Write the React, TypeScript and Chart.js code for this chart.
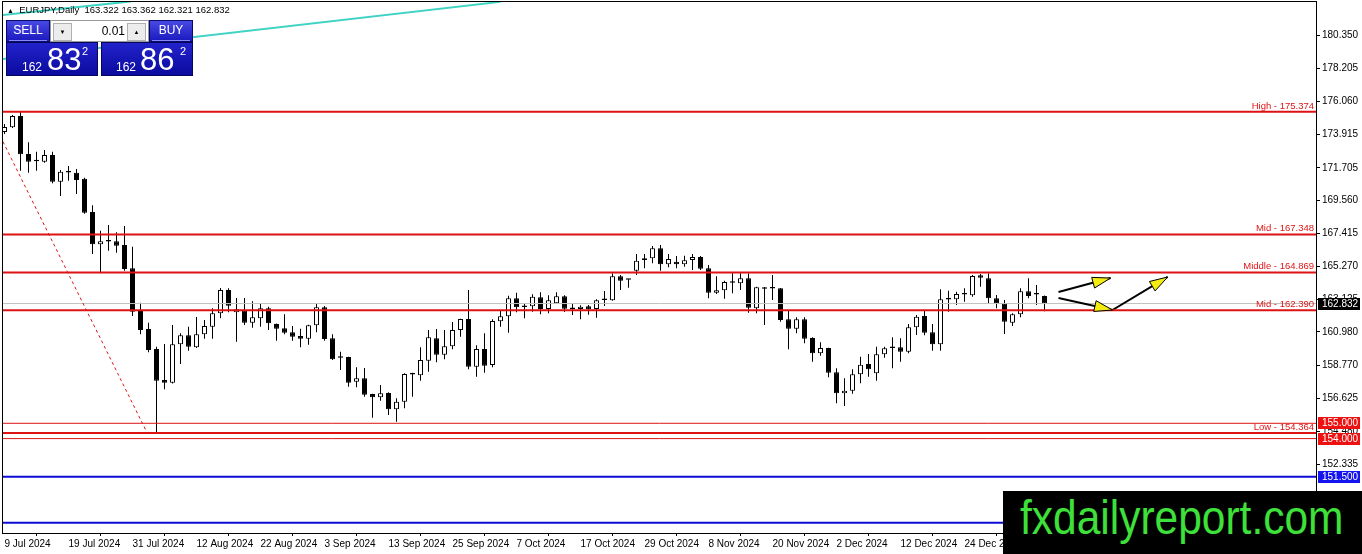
import { useEffect, useRef } from "react";
import { Chart, registerables } from "chart.js";

Chart.register(...registerables);

// --- data ---
const symbol = "EURJPY,Daily";

const dateLabels = [
  "9 Jul 2024", "19 Jul 2024", "31 Jul 2024", "12 Aug 2024", "22 Aug 2024", "3 Sep 2024",
  "13 Sep 2024", "25 Sep 2024", "7 Oct 2024", "17 Oct 2024", "29 Oct 2024", "8 Nov 2024",
  "20 Nov 2024", "2 Dec 2024", "12 Dec 2024", "24 Dec 2024",
];
const dateTickBars = [0, 8, 16, 24, 32, 40, 48, 56, 64, 72, 80, 88, 96, 104, 112, 120];

const opens = [
  174.052, 174.359, 175.098, 172.613, 172.17, 172.11, 172.548, 170.802, 171.43, 171.39,
  170.998, 168.82, 166.707, 166.89, 166.903, 166.661, 165.138, 162.41, 161.168, 159.86,
  157.832, 157.656, 160.167, 160.756, 159.971, 160.821, 161.318, 162.195, 163.718, 162.26,
  162.365, 161.58, 161.868, 162.522, 161.495, 161.214, 160.952, 160.71, 160.533, 161.41,
  162.587, 160.56, 159.3, 159.337, 157.721, 157.944, 156.917, 156.701, 156.982, 155.916,
  156.413, 158.2, 158.14, 159.094, 160.56, 159.487, 160.036, 161.102, 161.822, 158.702,
  159.86, 158.813, 161.671, 161.998, 163.176, 162.64, 162.652, 163.241, 162.476, 162.849,
  163.306, 162.51, 162.476, 162.652, 162.476, 163.07, 163.045, 164.614, 164.4, 164.981,
  165.68, 165.792, 166.446, 165.399, 165.569, 165.399, 165.68, 165.877, 165.138, 163.542,
  163.699, 164.21, 164.157, 164.484, 162.522, 163.895, 163.84, 163.83, 161.802, 161.187,
  161.802, 160.579, 159.578, 159.925, 158.336, 156.962, 157.132, 158.205, 158.879, 158.27,
  159.513, 159.96, 159.971, 159.683, 161.279, 162.018, 160.952, 160.167, 163.1, 163.11,
  163.45, 163.372, 164.68, 164.484, 163.176, 162.849, 161.58, 162.129, 163.633, 163.45,
  163.322,
];
const highs = [
  174.575, 175.164, 175.374, 173.378, 172.764, 172.875, 172.764, 171.567, 171.828, 171.632,
  171.063, 169.258, 167.597, 167.97, 167.492, 167.904, 166.55, 162.888, 161.58, 160.01,
  160.187, 161.429, 160.887, 161.318, 161.953, 161.756, 162.522, 163.849, 163.83, 163.195,
  163.195, 162.979, 162.803, 162.626, 161.52, 162.129, 161.364, 161.187, 161.45, 162.849,
  162.672, 160.821, 159.683, 159.36, 158.663, 158.617, 156.93, 157.505, 157.028, 156.635,
  158.27, 158.31, 159.971, 161.102, 161.168, 161.102, 161.626, 161.841, 163.718, 160.102,
  160.887, 161.802, 162.365, 163.346, 163.542, 162.803, 163.437, 163.568, 163.372, 163.568,
  163.372, 162.849, 162.718, 162.737, 163.11, 163.653, 164.811, 164.699, 164.42, 166.073,
  166.073, 166.596, 166.661, 166.073, 165.942, 165.962, 166.073, 165.942, 165.354, 164.614,
  164.327, 164.811, 164.811, 164.811, 163.934, 163.91, 164.699, 163.85, 162.41, 161.933,
  161.933, 160.625, 160.298, 159.94, 158.597, 157.944, 158.532, 159.356, 159.533, 160.01,
  160.01, 160.625, 160.56, 161.495, 162.083, 162.365, 161.495, 163.764, 163.673, 163.607,
  163.83, 164.699, 164.765, 164.811, 163.391, 163.064, 162.195, 163.83, 164.484, 164.045,
  163.362,
];
const lows = [
  173.921, 174.314, 171.521, 171.39, 171.521, 172.044, 170.697, 169.866, 170.867, 169.997,
  168.7, 166.073, 164.811, 166.289, 166.158, 164.981, 162.018, 160.821, 159.644, 154.364,
  157.224, 157.6, 158.879, 159.749, 159.93, 160.533, 160.533, 161.868, 162.26, 160.337,
  161.429, 161.253, 161.318, 161.102, 160.403, 160.821, 160.403, 159.971, 160.141, 160.952,
  160.403, 159.14, 158.486, 157.394, 157.355, 156.74, 155.367, 156.478, 155.543, 155.105,
  155.981, 156.74, 157.787, 158.375, 158.99, 159.186, 159.84, 160.664, 158.532, 158.048,
  158.31, 158.663, 161.318, 160.926, 162.26, 161.868, 162.299, 162.129, 162.195, 162.82,
  162.28, 162.083, 161.802, 162.103, 161.907, 162.672, 163.02, 163.718, 163.869, 164.699,
  165.138, 165.465, 164.981, 165.203, 165.138, 165.242, 165.027, 165.027, 163.176, 163.457,
  163.149, 163.503, 163.718, 162.234, 162.195, 161.429, 163.064, 161.645, 159.84, 160.887,
  160.232, 159.029, 159.421, 158.009, 156.308, 156.132, 156.94, 157.616, 158.048, 157.787,
  159.291, 158.597, 159.029, 159.578, 160.775, 160.756, 159.749, 159.749, 162.299, 162.737,
  162.953, 163.28, 163.934, 162.803, 162.522, 160.841, 161.364, 161.933, 163.176, 162.737,
  162.321,
];
const closes = [
  174.379, 175.098, 172.594, 172.11, 172.14, 172.548, 170.802, 171.456, 171.4, 170.913,
  168.774, 166.707, 166.903, 166.915, 166.616, 165.092, 162.299, 161.102, 159.794, 157.787,
  157.656, 160.167, 160.756, 160.01, 160.821, 161.364, 162.195, 163.718, 162.692, 162.456,
  161.58, 161.933, 162.522, 161.541, 161.187, 160.926, 160.664, 160.533, 161.41, 162.587,
  160.514, 159.186, 159.28, 157.656, 157.944, 156.871, 156.701, 156.962, 155.916, 156.413,
  158.225, 158.24, 159.14, 160.625, 159.487, 160.036, 161.102, 161.822, 158.702, 159.86,
  158.768, 161.691, 161.998, 163.176, 162.587, 162.61, 163.28, 162.476, 163.045, 163.306,
  162.495, 162.48, 162.626, 162.456, 163.045, 163.1, 164.614, 164.327, 164.385, 165.635,
  165.792, 166.446, 165.399, 165.746, 165.399, 165.661, 165.877, 165.111, 163.542, 163.699,
  164.242, 164.185, 164.484, 162.561, 163.895, 163.803, 163.82, 161.756, 161.187, 161.802,
  160.533, 159.578, 159.925, 158.31, 156.962, 157.132, 158.205, 158.833, 158.532, 159.513,
  159.906, 159.93, 159.683, 161.279, 161.972, 160.926, 160.167, 163.11, 163.12, 163.457,
  163.425, 164.634, 164.523, 163.176, 162.849, 161.645, 162.129, 163.633, 163.327, 163.425,
  162.832,
];

const priceTicks = [
  180.35, 178.205, 176.06, 173.915, 171.705, 169.56, 167.415, 165.27, 163.125,
  160.98, 158.77, 156.625, 154.48, 152.335, 150.19,
];

// horizontal levels
const levelValues = [175.374, 167.348, 164.869, 162.39, 155.0, 154.364, 154.0, 151.5, 148.5];
const levelNames = ["High", "Mid", "Middle", "Mid", "", "Low", "", "", ""];

const bidPrice = 162.832;
const askPrice = 162.862;
const lotSize = "0.01";
const tagValues = [162.832, 155.0, 154.0, 151.5];

// drawn objects, as (bar index, price)
const dashX = [-0.19, 17.84];
const dashY = [173.42, 154.364];
const cyanAX = [-0.19, 15.75];
const cyanAY = [181.704, 182.593];
const cyanBX = [-0.19, 62];
const cyanBY = [178.82, 182.564];
const arrow1X = [131.75, 138.25];
const arrow1Y = [163.59, 164.5];
const arrow2X = [131.75, 138.5, 145.4];
const arrow2Y = [163.2, 162.41, 164.57];

const X_MIN = -0.1875;
const X_MAX = 163.9375;
const Y_MIN = 147.826;
const Y_MAX = 182.554;

const FONT = "'Liberation Sans', Arial, sans-serif";
const RED = "#dd1313";
const BLUE = "#0c0cd4";

const pts = (xs: number[], ys: number[]) => xs.map((x, i) => ({ x, y: ys[i] }));

export default function App() {
  const canvasRef = useRef<HTMLCanvasElement>(null);

  useEffect(() => {
    const canvas = canvasRef.current;
    if (!canvas) return;

    const bars = closes.map((_, i) => i);
    const datasets: any[] = [];

    // level lines
    levelValues.forEach((v, i) => {
      const blue = i >= 7;
      const thin = !blue && levelNames[i] === "";
      datasets.push({
        type: "line",
        data: pts([X_MIN, X_MAX], [v, v]),
        borderColor: blue ? BLUE : RED,
        borderWidth: thin ? 1 : 2,
        pointRadius: 0,
        order: 0,
      });
    });
    // bid line
    datasets.push({
      type: "line",
      data: pts([X_MIN, X_MAX], [bidPrice, bidPrice]),
      borderColor: "#c0c0c0",
      borderWidth: 1,
      pointRadius: 0,
      order: 1,
    });
    datasets.push({
      type: "line",
      data: pts(dashX, dashY),
      borderColor: RED,
      borderWidth: 1,
      borderDash: [3, 3],
      pointRadius: 0,
      order: 0,
    });
    datasets.push({
      type: "line",
      data: pts(cyanAX, cyanAY),
      borderColor: "#3fd3c4",
      borderWidth: 2,
      pointRadius: 0,
      order: 0,
    });
    datasets.push({
      type: "line",
      data: pts(cyanBX, cyanBY),
      borderColor: "#3fd3c4",
      borderWidth: 2,
      pointRadius: 0,
      order: 0,
    });
    const arrow1Index = datasets.length;
    datasets.push({
      type: "line",
      data: pts(arrow1X, arrow1Y),
      borderColor: "#000",
      borderWidth: 2,
      pointRadius: 0,
      order: 0,
    });
    const arrow2Index = datasets.length;
    datasets.push({
      type: "line",
      data: pts(arrow2X, arrow2Y),
      borderColor: "#000",
      borderWidth: 2,
      pointRadius: 0,
      order: 0,
    });
    // candles: bodies then wicks
    datasets.push({
      type: "bar",
      data: bars.map((i) => ({ x: i, y: [opens[i], closes[i]] })),
      backgroundColor: bars.map((i) => (closes[i] >= opens[i] ? "#ffffff" : "#000000")),
      borderColor: "#000",
      borderWidth: 1,
      borderSkipped: false,
      barThickness: 5,
      minBarLength: 1.5,
      grouped: false,
      inflateAmount: 0,
      order: 2,
    });
    datasets.push({
      type: "bar",
      data: bars.map((i) => ({ x: i, y: [lows[i], highs[i]] })),
      backgroundColor: "#000",
      borderWidth: 0,
      barThickness: 1,
      grouped: false,
      inflateAmount: 0,
      order: 3,
    });

    const headSpec = [
      [arrow1Index, 1],
      [arrow2Index, 1],
      [arrow2Index, 2],
    ];

    const overlay = {
      id: "overlay",
      afterDatasetsDraw(c: any) {
        const { ctx, chartArea } = c;
        const y = c.scales.y;
        ctx.save();
        // level captions
        ctx.font = `9.5px ${FONT}`;
        ctx.fillStyle = "#e01414";
        ctx.textAlign = "right";
        ctx.textBaseline = "bottom";
        levelValues.forEach((v, i) => {
          if (!levelNames[i]) return;
          ctx.fillText(`${levelNames[i]} - ${v.toFixed(3)}`, chartArea.right - 2, y.getPixelForValue(v) - 1);
        });
        // arrow heads
        headSpec.forEach(([ds, k]) => {
          const p = c.getDatasetMeta(ds).data;
          const tip = p[k];
          const from = p[k - 1];
          const a = Math.atan2(tip.y - from.y, tip.x - from.x);
          const len = 18;
          const w = 5.5;
          const bx = tip.x - len * Math.cos(a);
          const by = tip.y - len * Math.sin(a);
          ctx.beginPath();
          ctx.moveTo(tip.x, tip.y);
          ctx.lineTo(bx + w * Math.sin(a), by - w * Math.cos(a));
          ctx.lineTo(bx - w * Math.sin(a), by + w * Math.cos(a));
          ctx.closePath();
          ctx.fillStyle = "#f4ec10";
          ctx.fill();
          ctx.strokeStyle = "#000";
          ctx.lineWidth = 1;
          ctx.stroke();
        });
        ctx.restore();
      },
      afterDraw(c: any) {
        const { ctx, chartArea } = c;
        const y = c.scales.y;
        ctx.save();
        ctx.strokeStyle = "#000";
        ctx.lineWidth = 1;
        ctx.strokeRect(chartArea.left - 0.5, chartArea.top - 0.5, chartArea.right - chartArea.left + 1, chartArea.bottom - chartArea.top + 1);
        const tagColors = ["#000000", "#ee1111", "#ee1111", "#1414ee"];
        ctx.font = `10px ${FONT}`;
        ctx.textBaseline = "middle";
        ctx.textAlign = "left";
        tagValues.forEach((v, i) => {
          const py = Math.round(y.getPixelForValue(v));
          ctx.fillStyle = tagColors[i];
          ctx.fillRect(chartArea.right + 2, py - 6, 42, 12);
          ctx.fillStyle = "#fff";
          ctx.fillText(v.toFixed(3), chartArea.right + 6, py + 0.5);
        });
        ctx.restore();
      },
    };

    const chart = new Chart(canvas, {
      type: "bar",
      data: { datasets },
      options: {
        animation: false,
        responsive: false,
        events: [],
        layout: { padding: { left: 3, top: 2, right: 0, bottom: 0 } },
        plugins: { legend: { display: false }, tooltip: { enabled: false } },
        scales: {
          x: {
            type: "linear",
            min: X_MIN,
            max: X_MAX,
            offset: false,
            border: { display: true, color: "#000" },
            grid: { drawOnChartArea: false, drawTicks: true, tickLength: 3, color: "#000" },
            afterBuildTicks: (s: any) => {
              s.ticks = dateTickBars.map((v) => ({ value: v }));
            },
            afterFit: (s: any) => {
              s.height = 21;
              s.paddingLeft = 0;
              s.paddingRight = 0;
            },
            ticks: {
              autoSkip: false,
              maxRotation: 0,
              minRotation: 0,
              align: "start",
              padding: 2,
              color: "#000",
              font: { family: FONT, size: 10 },
              callback: (_v: any, i: number) => dateLabels[i],
            },
          },
          y: {
            type: "linear",
            position: "right",
            min: Y_MIN,
            max: Y_MAX,
            border: { display: true, color: "#000" },
            grid: { drawOnChartArea: false, drawTicks: true, tickLength: 4, color: "#000" },
            afterBuildTicks: (s: any) => {
              s.ticks = priceTicks.map((v) => ({ value: v }));
            },
            afterFit: (s: any) => {
              s.width = 46;
              s.paddingTop = 0;
              s.paddingBottom = 0;
            },
            ticks: {
              padding: 2,
              color: "#000",
              font: { family: FONT, size: 10 },
              callback: (v: any) => Number(v).toFixed(3),
            },
          },
        },
      } as any,
      plugins: [overlay],
    });

    return () => chart.destroy();
  }, []);

  const headerStyle: any = {
    position: "absolute",
    top: 20,
    height: 22,
    boxSizing: "border-box",
    background: "linear-gradient(#4848e2, #1a1abf)",
    border: "1px solid #08086a",
    color: "#fff",
    fontSize: 12,
    lineHeight: "19px",
    textAlign: "center",
  };
  const lastBar = closes.length - 1;

  return (
    <div
      style={{
        position: "fixed",
        left: 0,
        top: 0,
        width: 1362,
        height: 554,
        background: "#fff",
        fontFamily: FONT,
        overflow: "hidden",
      }}
    >
      <canvas ref={canvasRef} width={1362} height={554} style={{ position: "absolute", left: 0, top: 0 }} />

      <div
        style={{
          position: "absolute",
          left: 7,
          top: 5,
          fontSize: 9.5,
          lineHeight: "10px",
          whiteSpace: "pre",
          color: "#000",
        }}
      >
        <span style={{ fontSize: 7 }}>▲</span>
        {`  ${symbol}  ${opens[lastBar].toFixed(3)} ${highs[lastBar].toFixed(3)} ${lows[lastBar].toFixed(3)} ${closes[lastBar].toFixed(3)}`}
      </div>

      <div style={{ ...headerStyle, left: 6, width: 44 }}>
        SELL
        <div style={{ position: "absolute", left: 2, right: 2, bottom: 0, height: 1, background: "#8a8aff" }} />
      </div>
      <div
        style={{
          position: "absolute",
          left: 50,
          top: 20,
          width: 99,
          height: 22,
          boxSizing: "border-box",
          background: "#fff",
          border: "1px solid #9a9a9a",
        }}
      >
        <div
          style={{
            position: "absolute",
            left: 2,
            top: 2,
            width: 17,
            height: 16,
            background: "#ececec",
            border: "1px solid #b0b0b0",
            fontSize: 6,
            lineHeight: "16px",
            textAlign: "center",
          }}
        >
          ▼
        </div>
        <div style={{ position: "absolute", right: 23, top: 3, fontSize: 12, lineHeight: "14px" }}>{lotSize}</div>
        <div
          style={{
            position: "absolute",
            right: 2,
            top: 2,
            width: 17,
            height: 16,
            background: "#ececec",
            border: "1px solid #b0b0b0",
            fontSize: 6,
            lineHeight: "16px",
            textAlign: "center",
          }}
        >
          ▲
        </div>
      </div>
      <div style={{ ...headerStyle, left: 149, width: 44 }}>
        BUY
        <div style={{ position: "absolute", left: 2, right: 2, bottom: 0, height: 1, background: "#8a8aff" }} />
      </div>
      <QuoteBox left={6} price={bidPrice} pos={[15, 40, 75]} />
      <QuoteBox left={101} price={askPrice} pos={[14, 38, 78]} />

      <div
        style={{
          position: "absolute",
          left: 1003,
          top: 491,
          width: 359,
          height: 63,
          background: "#000",
          overflow: "hidden",
        }}
      >
        <div
          style={{
            position: "absolute",
            left: 17,
            top: 3,
            fontSize: 48,
            lineHeight: "48px",
            color: "#3ee03a",
            whiteSpace: "nowrap",
            transform: "scaleX(0.885)",
            transformOrigin: "left top",
          }}
        >
          fxdailyreport.com
        </div>
      </div>
    </div>
  );
}

function splitQuote(p: number) {
  const s = p.toFixed(3);
  return [s.slice(0, 3), s.slice(4, 6), s.slice(6)];
}

function QuoteBox({ left, price, pos }: { left: number; price: number; pos: number[] }) {
  const [big, pips, frac] = splitQuote(price);
  return (
    <div
      style={{
        position: "absolute",
        left,
        top: 42,
        width: 92,
        height: 34,
        boxSizing: "border-box",
        background: "linear-gradient(#2222cc, #0b0b9e)",
        border: "1px solid #06065a",
        color: "#fff",
      }}
    >
      <span style={{ position: "absolute", left: pos[0], top: 18, fontSize: 12, lineHeight: 1 }}>{big}</span>
      <span style={{ position: "absolute", left: pos[1], top: 1, fontSize: 31, lineHeight: 1 }}>{pips}</span>
      <span style={{ position: "absolute", left: pos[2], top: 3, fontSize: 11, lineHeight: 1 }}>{frac}</span>
    </div>
  );
}
